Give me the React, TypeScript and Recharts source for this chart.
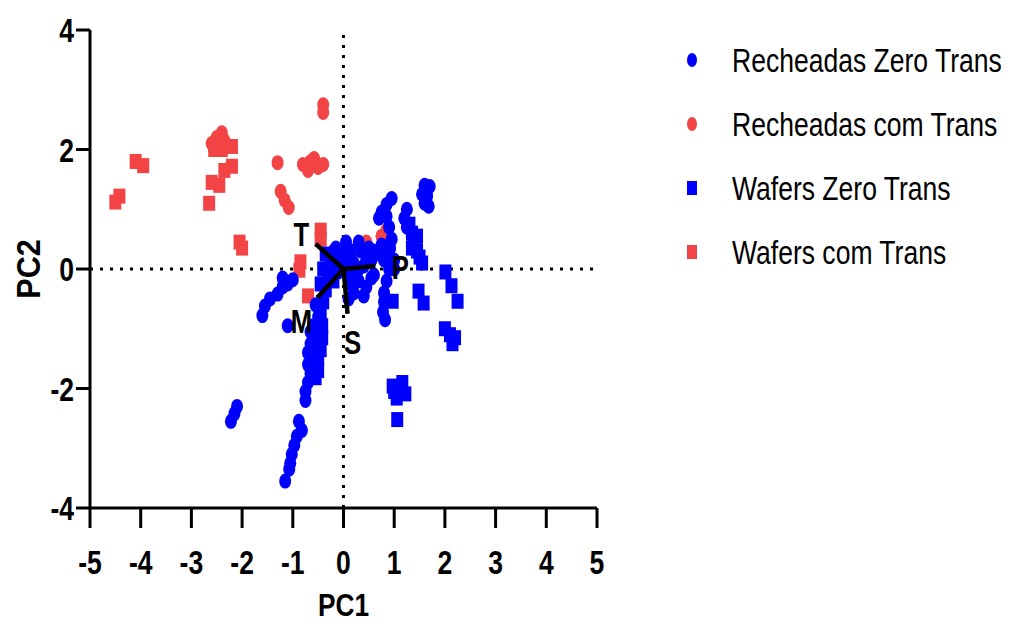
import React from 'react';
import { ScatterChart, Scatter, XAxis, YAxis, ReferenceLine, Label } from 'recharts';

const xTicks = [-5, -4, -3, -2, -1, 0, 1, 2, 3, 4, 5];
const yTicks = [-4, -2, 0, 2, 4];

const recheadasZeroTrans: [number, number][] = [
  [1.6, 1.4], [1.7, 1.38], [1.55, 1.25], [1.65, 1.22], [1.6, 1.1], [1.68, 1.05],
  [1.25, 1.0], [1.2, 0.85], [1.25, 0.7],
  [0.95, 1.18], [0.85, 1.08], [0.75, 0.95], [0.7, 0.85], [0.85, 0.88], [0.9, 0.7],
  [0.75, 0.4], [0.85, 0.3], [0.8, 0.15], [0.9, 0.0], [0.85, -0.2], [0.8, -0.4], [0.8, -0.55], [0.78, -0.72], [0.82, -0.85],
  [0.92, 0.35], [1.0, 0.15], [1.0, 0.0], [0.95, 0.5], [0.7, 0.25],
  [0.05, 0.45], [0.15, 0.3], [0.3, 0.45], [0.35, 0.3], [0.5, 0.35], [0.55, 0.15], [0.2, 0.1], [0.4, 0.05],
  [0.1, -0.1], [0.3, -0.2], [0.45, -0.3], [0.2, -0.4], [0.55, -0.15], [0.05, 0.2], [0.25, -0.05], [-0.15, 0.35], [-0.05, 0.25], [0.1, -0.5],
  [0.6, 0.3], [0.45, 0.15], [0.3, 0.0], [0.15, -0.25], [0.4, -0.45], [0.6, -0.1], [-0.1, -0.05],
  [-1.6, -0.78], [-1.55, -0.62], [-1.45, -0.5], [-1.3, -0.42], [-1.2, -0.3], [-1.1, -0.25], [-1.0, -0.18], [-1.2, -0.15], [-1.1, -0.95],
  [-0.55, -0.6], [-0.5, -0.8], [-0.5, -1.0], [-0.55, -1.15], [-0.6, -1.3], [-0.65, -1.25], [-0.7, -1.4], [-0.6, -1.45], [-0.7, -1.6],
  [-0.65, -1.75], [-0.7, -1.9], [-0.75, -2.05], [-0.75, -2.2], [-0.6, -0.95], [-0.65, -1.05],
  [-0.88, -2.55], [-0.82, -2.7], [-0.92, -2.8], [-0.97, -2.95], [-1.02, -3.1], [-1.05, -3.25], [-1.07, -3.35], [-1.15, -3.55],
  [-2.1, -2.3], [-2.15, -2.42], [-2.22, -2.55],
];

const recheadasComTrans: [number, number][] = [
  [-0.4, 2.75], [-0.4, 2.62],
  [-2.6, 2.1], [-2.5, 2.2], [-2.4, 2.28], [-2.35, 2.15], [-2.55, 2.0],
  [-1.3, 1.78],
  [-1.24, 1.3], [-1.16, 1.15], [-1.08, 1.03],
  [-0.8, 1.75], [-0.7, 1.65], [-0.58, 1.85], [-0.5, 1.7], [-0.4, 1.75], [-0.65, 1.8],
  [0.8, 0.42], [0.85, 0.65], [0.75, 0.55], [0.2, 0.3], [-0.2, 0.3], [0.45, 0.45],
];

const wafersZeroTrans: [number, number][] = [
  [-0.35, 0.25], [-0.25, 0.15], [-0.4, 0.0], [-0.3, -0.1], [-0.2, -0.2], [-0.1, 0.2], [0.0, 0.0], [-0.45, -0.25], [-0.15, 0.05],
  [-0.35, -0.35], [-0.4, -0.55], [-0.45, -0.75], [-0.42, -0.95], [-0.42, -1.15], [-0.45, -1.35], [-0.5, -1.5], [-0.5, -1.7], [-0.55, -1.82], [-0.55, -1.6],
  [1.3, 0.75], [1.35, 0.6], [1.4, 0.45], [1.45, 0.3], [1.5, 0.2], [1.55, 0.1], [1.35, 0.35], [1.45, 0.55],
  [1.48, -0.37], [1.58, -0.57], [0.97, -0.54],
  [2.01, -0.05], [2.13, -0.28], [2.25, -0.54],
  [2.0, -1.0], [2.1, -1.1], [2.2, -1.15], [2.15, -1.25],
  [0.97, -1.96], [1.16, -1.9], [1.22, -2.09], [1.05, -2.16], [1.0, -2.05], [1.06, -2.52],
];

const wafersComTrans: [number, number][] = [
  [-4.5, 1.12], [-4.42, 1.22], [-4.1, 1.8], [-3.95, 1.73],
  [-2.65, 1.1], [-2.6, 1.45], [-2.45, 1.4], [-2.35, 1.65], [-2.2, 1.72], [-2.55, 2.0], [-2.4, 2.0], [-2.2, 2.05],
  [-2.05, 0.45], [-2.0, 0.35],
  [-0.85, 0.12], [-0.87, -0.02], [-0.7, -0.45], [-0.45, 0.65], [-0.45, 0.5],
];

const vectorNames = ['T', 'P', 'M', 'S'];
const vectorX = [-0.55, 0.63, -0.52, 0.08];
const vectorY = [0.42, 0.05, -0.48, -0.75];
const labelX = [-0.83, 1.12, -0.83, 0.18];
const labelY = [0.58, 0.03, -0.87, -1.22];

const BLUE = '#0000FF';
const RED = '#F24444';
const FONT = '"Liberation Sans", Arial, sans-serif';
const SX = 0.78;

const toPts = (a: [number, number][]) => a.map(([x, y]) => ({ x, y }));

const circleShape = (color: string) => (p: any) => (
  <ellipse cx={p.cx} cy={p.cy} rx={6} ry={7.5} fill={color} />
);
const squareShape = (color: string) => (p: any) => (
  <rect x={p.cx - 6} y={p.cy - 7.5} width={12} height={15} fill={color} />
);
const noShape = () => <g />;

const XTick = (p: any) => (
  <g transform={`translate(${p.x},${p.y}) scale(${SX},1)`}>
    <text x={0} y={0} dy={46} textAnchor="middle" fontFamily={FONT} fontWeight="bold" fontSize={34} fill="#000">
      {p.payload.value}
    </text>
  </g>
);

const YTick = (p: any) => (
  <g transform={`translate(${p.x},${p.y}) scale(${SX},1)`}>
    <text x={0} y={0} dy={12} textAnchor="end" fontFamily={FONT} fontWeight="bold" fontSize={34} fill="#000">
      {p.payload.value}
    </text>
  </g>
);

const PC1Label = (p: any) => {
  const vb = p.viewBox || { x: 90, y: 508, width: 507, height: 116 };
  return (
    <g transform={`translate(${vb.x + vb.width / 2},${616}) scale(0.82,1)`}>
      <text x={0} y={0} textAnchor="middle" fontFamily={FONT} fontWeight="bold" fontSize={32} fill="#000">PC1</text>
    </g>
  );
};

const PC2Label = (p: any) => {
  const vb = p.viewBox || { x: 0, y: 30, width: 90, height: 478 };
  return (
    <g transform={`translate(${40},${vb.y + vb.height / 2}) rotate(-90) scale(0.9,1)`}>
      <text x={0} y={0} textAnchor="middle" fontFamily={FONT} fontWeight="bold" fontSize={34} fill="#000">PC2</text>
    </g>
  );
};

const vecLabelShape = (name: string) => (p: any) => (
  <g transform={`translate(${p.cx},${p.cy}) scale(${SX},1)`}>
    <text x={0} y={0} dy={12} textAnchor="middle" fontFamily={FONT} fontWeight="bold" fontSize={33} fill="#000">{name}</text>
  </g>
);

const legendItems = [
  { name: 'Recheadas Zero Trans', color: BLUE, shape: 'circle' },
  { name: 'Recheadas com Trans', color: RED, shape: 'circle' },
  { name: 'Wafers Zero Trans', color: BLUE, shape: 'square' },
  { name: 'Wafers com Trans', color: RED, shape: 'square' },
];

export default function App() {
  return (
    <div style={{ position: 'absolute', left: 0, top: 0, width: 1012, height: 624, background: '#fff' }}>
      <ScatterChart width={1012} height={624} margin={{ top: 30, right: 415, left: 0, bottom: 0 }}>
        <XAxis
          type="number"
          dataKey="x"
          domain={[-5, 5]}
          ticks={xTicks}
          allowDataOverflow
          height={116}
          tickSize={20}
          tickMargin={0}
          axisLine={{ stroke: '#000', strokeWidth: 3 }}
          tickLine={{ stroke: '#000', strokeWidth: 3 }}
          tick={<XTick />}
        >
          <Label content={<PC1Label />} />
        </XAxis>
        <YAxis
          type="number"
          dataKey="y"
          domain={[-4, 4]}
          ticks={yTicks}
          allowDataOverflow
          width={90}
          tickSize={14}
          tickMargin={2}
          axisLine={{ stroke: '#000', strokeWidth: 3 }}
          tickLine={{ stroke: '#000', strokeWidth: 3 }}
          tick={<YTick />}
        >
          <Label content={<PC2Label />} />
        </YAxis>
        <ReferenceLine x={0} stroke="#000" strokeWidth={3} strokeDasharray="3 7" />
        <ReferenceLine y={0} stroke="#000" strokeWidth={3} strokeDasharray="3 7" />
        <Scatter name="Recheadas com Trans" data={toPts(recheadasComTrans)} fill={RED} shape={circleShape(RED)} isAnimationActive={false} />
        <Scatter name="Wafers com Trans" data={toPts(wafersComTrans)} fill={RED} shape={squareShape(RED)} isAnimationActive={false} />
        <Scatter name="Recheadas Zero Trans" data={toPts(recheadasZeroTrans)} fill={BLUE} shape={circleShape(BLUE)} isAnimationActive={false} />
        <Scatter name="Wafers Zero Trans" data={toPts(wafersZeroTrans)} fill={BLUE} shape={squareShape(BLUE)} isAnimationActive={false} />
        {vectorNames.map((n, i) => (
          <Scatter
            key={'v' + n}
            name={'vector ' + n}
            data={[{ x: 0, y: 0 }, { x: vectorX[i], y: vectorY[i] }]}
            fill="#000"
            line={{ stroke: '#000', strokeWidth: 4.5 }}
            shape={noShape}
            legendType="none"
            isAnimationActive={false}
          />
        ))}
        {vectorNames.map((n, i) => (
          <Scatter
            key={'l' + n}
            name={'label ' + n}
            data={[{ x: labelX[i], y: labelY[i] }]}
            fill="#000"
            shape={vecLabelShape(n)}
            legendType="none"
            isAnimationActive={false}
          />
        ))}
      </ScatterChart>
      <div style={{ position: 'absolute', left: 680, top: 28, width: 332 }}>
        {legendItems.map((it) => (
          <div key={it.name} style={{ position: 'relative', height: 64 }}>
            <svg width={24} height={64} style={{ position: 'absolute', left: 0, top: 0 }}>
              {it.shape === 'circle' ? (
                <ellipse cx={12} cy={32} rx={5} ry={7} fill={it.color} />
              ) : (
                <rect x={7} y={25} width={10} height={14} fill={it.color} />
              )}
            </svg>
            <span
              style={{
                position: 'absolute',
                left: 52,
                top: 0,
                lineHeight: '64px',
                fontSize: 34,
                fontFamily: FONT,
                whiteSpace: 'nowrap',
                transform: `scaleX(${SX})`,
                transformOrigin: 'left center',
                color: '#000',
              }}
            >
              {it.name}
            </span>
          </div>
        ))}
      </div>
    </div>
  );
}
